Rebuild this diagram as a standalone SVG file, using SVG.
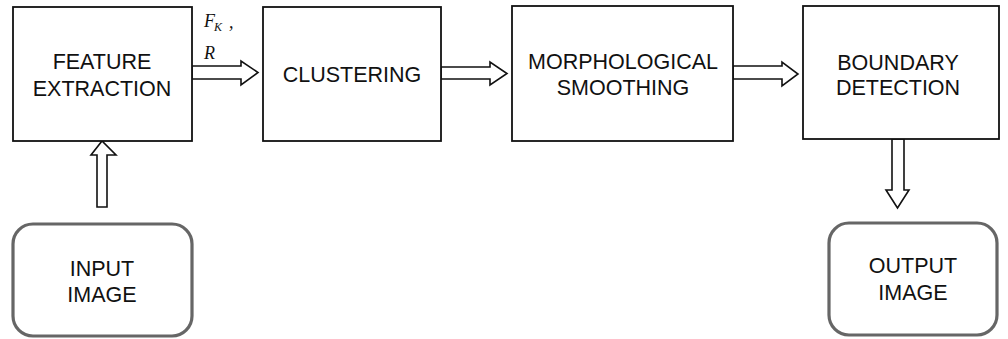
<svg xmlns="http://www.w3.org/2000/svg" width="1008" height="339" viewBox="0 0 1008 339">
<style>
.box{fill:#fff;stroke:#111;stroke-width:1.8}
.term{fill:#fff;stroke:#666;stroke-width:3.2}
.arr{fill:#fff;stroke:#111;stroke-width:1.6;stroke-linejoin:miter}
.t{font-family:"Liberation Sans",Arial,sans-serif;font-size:21.5px;fill:#111;text-anchor:middle}
.m{font-family:"Liberation Serif","Times New Roman",serif;font-style:italic;fill:#111}
</style>
<rect width="1008" height="339" fill="#fff"/>
<g id="connectors">
<polygon class="arr" points="192,66 241,66 241,61 258,72.5 241,85 241,79 192,79"/>
<polygon class="arr" points="441,67 490,67 490,62 507,73.5 490,85 490,79 441,79"/>
<polygon class="arr" points="733,66 782,66 782,62 798,74 782,86 782,79 733,79"/>
<polygon class="arr" points="97,207 97,155 91,155 102,141 116,155 107,155 107,207"/>
<polygon class="arr" points="892,139 892,190 886,190 897.5,208 909,190 904,190 904,139"/>
<text class="m" x="204" y="27" font-size="18">F</text>
<text class="m" x="214" y="31" font-size="12">K</text>
<text class="m" x="229" y="28" font-size="18">,</text>
<text class="m" x="204" y="59" font-size="18">R</text>
</g>
<g id="feature-extraction">
<rect class="box" x="13" y="7" width="179" height="134"/>
<text class="t" x="102" y="69">FEATURE</text>
<text class="t" x="102" y="96">EXTRACTION</text>
</g>
<g id="clustering">
<rect class="box" x="263" y="7" width="178" height="134"/>
<text class="t" x="352" y="82">CLUSTERING</text>
</g>
<g id="morphological-smoothing">
<rect class="box" x="512" y="6" width="221" height="135"/>
<text class="t" x="623" y="69">MORPHOLOGICAL</text>
<text class="t" x="623" y="95">SMOOTHING</text>
</g>
<g id="boundary-detection">
<rect class="box" x="803" y="6" width="196" height="133"/>
<text class="t" x="898" y="70">BOUNDARY</text>
<text class="t" x="898" y="95">DETECTION</text>
</g>
<g id="input-image">
<rect class="term" x="13" y="224" width="179" height="112" rx="20" ry="20"/>
<text class="t" x="102" y="276">INPUT</text>
<text class="t" x="102" y="302">IMAGE</text>
</g>
<g id="output-image">
<rect class="term" x="829" y="223" width="168" height="112" rx="20" ry="20"/>
<text class="t" x="913" y="273">OUTPUT</text>
<text class="t" x="913" y="300">IMAGE</text>
</g>
</svg>
